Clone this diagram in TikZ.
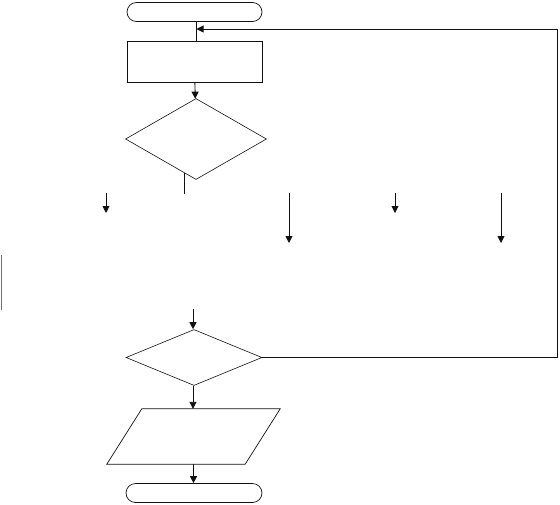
\documentclass[tikz,border=0pt]{standalone}
\usepackage{tikz}
\usetikzlibrary{arrows.meta,positioning,calc,shapes.geometric}
\definecolor{trait}{HTML}{111111}
\definecolor{grisC}{RGB}{110,110,110}
\tikzset{
  termin/.style={rectangle, rounded corners=9.5pt, draw=trait, line width=0.7pt,
                 minimum width=135pt, minimum height=19pt, inner sep=0pt},
  procbox/.style={rectangle, draw=trait, line width=0.7pt,
                  minimum width=135pt, minimum height=41pt, inner sep=0pt},
  decis/.style={diamond, draw=trait, line width=0.6pt, inner sep=0pt},
  iobox/.style={rectangle, minimum width=138pt, minimum height=55pt, inner sep=0pt},
  arr/.style={-{Triangle[length=7pt,width=7pt]}, line width=0.9pt, draw=trait},
  plain/.style={line width=0.8pt, draw=trait},
}
\begin{document}
\begin{tikzpicture}[x=1pt,y=-1pt]
  \useasboundingbox (0,0) rectangle (560,504);
  % main chain
  \node[termin] (debut) at (194.5,12) {};
  \node[procbox] (calc) at (194.5,61.5) {};
  \node[decis, minimum width=141pt, minimum height=81pt] (test1) at (196,139) {};
  \node[decis, minimum width=136pt, minimum height=56pt] (test2) at (194,357.5) {};
  \node[iobox] (sortie) at (193.5,436.5) {};
  \draw[plain, line width=0.7pt] ($(sortie.south west)+(-17.5,0)$) -- ($(sortie.north west)+(17.5,0)$)
    -- ($(sortie.north east)+(17.5,0)$) -- ($(sortie.south east)+(-17.5,0)$) -- cycle;
  \node[termin, minimum width=136pt] (fin) at (194,493) {};
  % free ends
  \coordinate (stub) at (184.5,173);
  \coordinate (b1) at (106,193);
  \coordinate (b2) at (289,193);
  \coordinate (b3) at (395,193);
  \coordinate (b4) at (501,193);
  \coordinate (entree) at (193,309);
  \coordinate (boucle) at (557,29);
  \coordinate (bord) at (1.5,255);
  % connectors
  \draw[plain] (debut.south -| 196,0) -- (calc.north -| 196,0);
  \draw[arr] (calc) -- (test1);
  \draw[plain] (stub) -- ++(0,20.5);
  \draw[arr] (b1) -- ++(0,20);
  \draw[arr] (b2) -- ++(0,50);
  \draw[arr] (b3) -- ++(0,20);
  \draw[arr] (b4) -- ++(0,50);
  \draw[line width=0.9pt, draw=grisC] (bord) -- ++(0,55);
  \draw[arr] (entree) -- (test2.north -| entree);
  \draw[arr] (test2.south -| entree) -- (sortie.north -| entree);
  \draw[arr] (sortie.south) -- (fin.north -| sortie.south);
  \draw[arr] (test2.east) -| (boucle) -- (boucle -| 196.5,0);
\end{tikzpicture}
\end{document}
